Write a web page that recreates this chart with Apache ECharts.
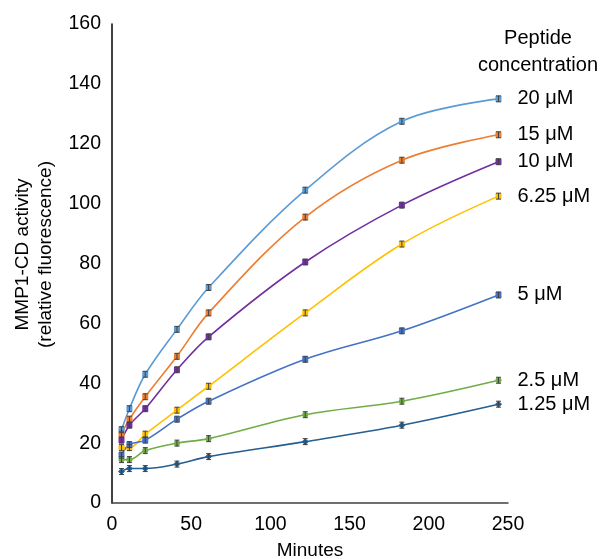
<!DOCTYPE html>
<html>
<head>
<meta charset="utf-8">
<script src="https://cdn.jsdelivr.net/npm/echarts@6/dist/echarts.min.js"></script>
<style>
html,body{margin:0;padding:0;background:#fff;}
#chart{width:600px;height:559px;}
</style>
</head>
<body>
<div id="chart"></div>
<script>
var minutes = [6, 11, 21, 41, 61, 122, 183, 244];
var seriesNames = ['20 μM', '15 μM', '10 μM', '6.25 μM', '5 μM', '2.5 μM', '1.25 μM'];
var c20   = [24.5, 31.5, 43.0, 58.0, 72.0, 104.5, 127.5, 135.0];
var c15   = [23.0, 28.0, 35.5, 49.0, 63.5, 95.5, 114.5, 123.0];
var c10   = [21.0, 26.0, 31.5, 44.5, 55.5, 80.5, 99.5, 114.0];
var c625  = [18.5, 18.5, 23.0, 31.0, 39.0, 63.5, 86.5, 102.5];
var c5    = [16.0, 19.5, 21.0, 28.0, 34.0, 48.0, 57.5, 69.5];
var c25   = [14.5, 14.5, 17.5, 20.0, 21.5, 29.5, 34.0, 41.0];
var c125  = [10.5, 11.5, 11.5, 13.0, 15.5, 20.5, 26.0, 33.0];
var errors = [1.0, 1.0, 1.0, 1.0, 1.0, 1.0, 1.0, 1.0];
var xTicks = [0, 50, 100, 150, 200, 250];
var yTicks = [0, 20, 40, 60, 80, 100, 120, 140, 160];

var allValues = [c20, c15, c10, c625, c5, c25, c125];
var colors = ['#5B9BD5', '#ED7D31', '#7030A0', '#FFC000', '#4472C4', '#70AD47', '#255E91'];
var symbols = ['rect', 'rect', 'rect', 'rect', 'rect', 'circle', 'diamond'];
var FONT = 'Liberation Sans, Arial, sans-serif';

var series = [];
allValues.forEach(function (vals, i) {
  series.push({
    name: seriesNames[i],
    type: 'line',
    smooth: 0.35,
    data: minutes.map(function (m, j) { return [m, vals[j]]; }),
    symbol: symbols[i],
    symbolSize: symbols[i] === 'diamond' ? 7 : 6,
    lineStyle: { color: colors[i], width: 1.6 },
    itemStyle: { color: colors[i] },
    z: 3,
    endLabel: {
      show: true,
      formatter: seriesNames[i],
      distance: 19,
      fontFamily: FONT,
      fontSize: 20,
      color: '#000'
    }
  });
  series.push({
    type: 'custom',
    z: 4,
    silent: true,
    data: minutes.map(function (m, j) { return [m, vals[j] - errors[j], vals[j] + errors[j]]; }),
    renderItem: function (params, api) {
      var lo = api.coord([api.value(0), api.value(1)]);
      var hi = api.coord([api.value(0), api.value(2)]);
      var w = 2.5;
      var st = { stroke: '#404040', lineWidth: 1 };
      return {
        type: 'group',
        children: [
          { type: 'line', shape: { x1: lo[0], y1: lo[1], x2: hi[0], y2: hi[1] }, style: st },
          { type: 'line', shape: { x1: lo[0] - w, y1: lo[1], x2: lo[0] + w, y2: lo[1] }, style: st },
          { type: 'line', shape: { x1: hi[0] - w, y1: hi[1], x2: hi[0] + w, y2: hi[1] }, style: st }
        ]
      };
    }
  });
});

var chart = echarts.init(document.getElementById('chart'));
chart.setOption({
  animation: false,
  backgroundColor: '#fff',
  grid: { left: 112, right: 92, top: 24, bottom: 56, containLabel: false, outerBoundsMode: 'none' },
  xAxis: {
    type: 'value',
    min: xTicks[0], max: xTicks[xTicks.length - 1], interval: 50,
    name: 'Minutes',
    nameLocation: 'middle',
    nameGap: 38,
    nameTextStyle: { fontFamily: FONT, fontSize: 19, color: '#000' },
    axisLine: { show: true, lineStyle: { color: '#404040', width: 1.5 } },
    axisTick: { show: false },
    splitLine: { show: false },
    axisLabel: { fontFamily: FONT, fontSize: 19.5, color: '#000', margin: 12 }
  },
  yAxis: {
    type: 'value',
    min: yTicks[0], max: yTicks[yTicks.length - 1], interval: 20,
    name: 'MMP1-CD activity\n(relative fluorescence)',
    nameLocation: 'middle',
    nameGap: 50,
    nameTextStyle: { fontFamily: FONT, fontSize: 19, color: '#000', lineHeight: 23, padding: [0, 0, 0, 18] },
    axisLine: { show: true, lineStyle: { color: '#000', width: 1.5 } },
    axisTick: { show: false },
    splitLine: { show: false },
    axisLabel: { fontFamily: FONT, fontSize: 19.5, color: '#000', margin: 11 }
  },
  graphic: [
    {
      type: 'text', x: 538, y: 38,
      style: {
        text: 'Peptide', textAlign: 'center', textVerticalAlign: 'middle',
        align: 'center', verticalAlign: 'middle',
        font: '20px ' + FONT, fill: '#000'
      }
    },
    {
      type: 'text', x: 538, y: 65,
      style: {
        text: 'concentration', textAlign: 'center', textVerticalAlign: 'middle',
        align: 'center', verticalAlign: 'middle',
        font: '20px ' + FONT, fill: '#000'
      }
    }
  ],
  series: series
});
</script>
</body>
</html>
